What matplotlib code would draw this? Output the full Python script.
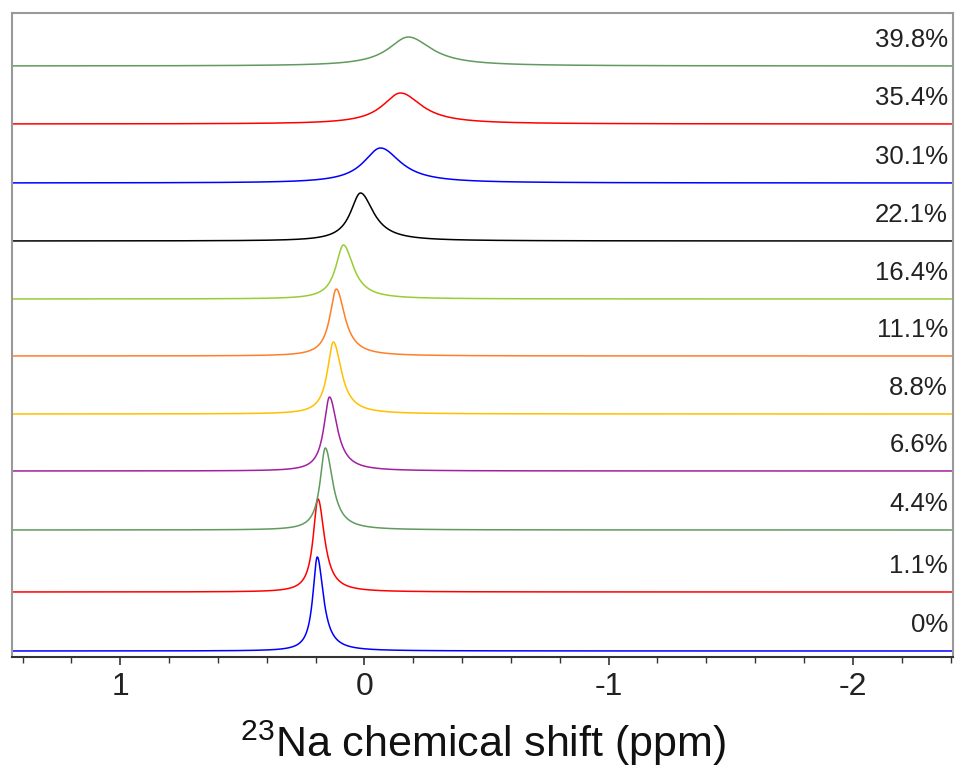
import numpy as np
import matplotlib
matplotlib.use("Agg")
import matplotlib.pyplot as plt

plt.rcParams['font.family'] = ['Liberation Sans', 'DejaVu Sans']
plt.rcParams['mathtext.fontset'] = 'custom'
plt.rcParams['mathtext.rm'] = 'Liberation Sans'
plt.rcParams['mathtext.it'] = 'Liberation Sans'

# sample labels (bottom to top)
labels = ["0%", "1.1%", "4.4%", "6.6%", "8.8%", "11.1%", "16.4%", "22.1%", "30.1%", "35.4%", "39.8%"]
colors = ["#0000ff", "#ff0000", "#5f9a5f", "#a020a0", "#ffc000", "#ff7f27", "#99cc33",
          "#000000", "#0000ff", "#ff0000", "#5f9a5f"]
# peak centre (ppm), height and half widths (left / right side, ppm)
centers = [0.193, 0.19, 0.16, 0.143, 0.127, 0.115, 0.086, 0.016, -0.066, -0.148, -0.18]
heights = [94, 93, 82, 74, 72, 67, 54, 48, 35, 31, 29]
hw_left = [0.022, 0.024, 0.026, 0.028, 0.03, 0.032, 0.038, 0.05, 0.085, 0.09, 0.1]
hw_right = [0.03, 0.032, 0.036, 0.038, 0.04, 0.042, 0.05, 0.065, 0.1, 0.105, 0.115]
# vertical offset of each spectrum
offsets = [6, 65, 127, 186, 243, 301, 358, 416, 474, 533, 591]

ppm = np.linspace(1.45, -2.42, 4000)

fig = plt.figure(figsize=(9.56, 7.77), dpi=100)
ax = fig.add_axes([12 / 956, 120 / 777, 941 / 956, 644 / 777])

for i in range(len(labels)):
    hw = np.where(ppm > centers[i], hw_left[i], hw_right[i])
    y = heights[i] / (1 + ((ppm - centers[i]) / hw) ** 2)
    ax.plot(ppm, y + offsets[i], color=colors[i], lw=1.1)
    ax.text(0.9947, offsets[i] + 26, labels[i], transform=ax.get_yaxis_transform(),
            ha="right", va="center", fontsize=18.5, color="#222222")

ax.set_xlim(1.443, -2.41)
ax.set_ylim(0, 644)
ax.set_yticks([])
ax.set_xticks([1, 0, -1, -2])
ax.set_xticklabels(["1", "0", "-1", "-2"])
ax.set_xticks(np.arange(-2.4, 1.45, 0.2), minor=True)
ax.tick_params(axis="x", which="major", length=6, width=1.2, color="#333333",
               labelsize=23, pad=5, labelcolor="#222222")
ax.tick_params(axis="x", which="minor", length=4, width=1.0, color="#333333")
for s in ["top", "right", "left"]:
    ax.spines[s].set_color("#999999")
    ax.spines[s].set_linewidth(1.5)
ax.spines["bottom"].set_color("#333333")
ax.spines["bottom"].set_linewidth(1.5)

ax.set_xlabel(r"$^{23}$Na chemical shift (ppm)", fontsize=31, labelpad=12, color="#111111")

fig.savefig("out.png", dpi=100)
